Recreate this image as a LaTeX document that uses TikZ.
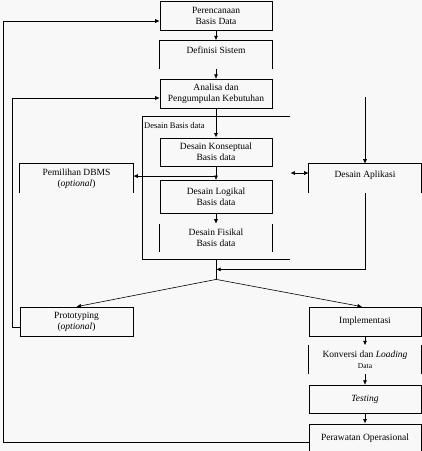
\documentclass[tikz,border=0pt]{standalone}
\usepackage{fontspec}
\setmainfont{Liberation Serif}
\usetikzlibrary{arrows.meta,positioning,calc}
\definecolor{PageGrey}{HTML}{F8F8F8}

\begin{document}
\begin{tikzpicture}[
  x=1pt,y=1pt,
  font=\fontsize{9.5}{11}\selectfont,
  box/.style={draw,line width=0.6pt,align=center,minimum width=112pt,
    minimum height=29pt,inner sep=1pt},
  openbox/.style={box,draw=none},
  edge/.style={line width=0.6pt},
  flow/.style={edge,-{Latex[length=4.5pt,width=4pt]}},
  twoway/.style={edge,{Latex[length=4.5pt,width=4pt]}-{Latex[length=4.5pt,width=4pt]}}
]
  \fill[PageGrey] (0,0) rectangle (422,-451);
  \useasboundingbox (0,0) rectangle (422,-451);

  % main column
  \node[box] (plan) at (216,-15.5) {Perencanaan\\Basis Data};
  \node[openbox,below=10pt of plan,minimum height=28pt] (defsis)
    {Definisi Sistem\\[-3pt]\mbox{}};
  \node[box,below=10pt of defsis] (analisa)
    {Analisa dan\\Pengumpulan Kebutuhan};
  \node[box,below=29pt of analisa,minimum height=28pt] (konsep)
    {Desain Konseptual\\Basis data};
  \node[box,below=14pt of konsep,minimum height=33pt] (logikal)
    {Desain Logikal\\Basis data};
  \node[openbox,below=10pt of logikal,minimum height=28pt] (fisikal)
    {Desain Fisikal\\Basis data};

  % database design frame
  \node[minimum width=148pt,minimum height=143pt,anchor=north west,
    inner sep=0pt] (dbframe) at (142,-116) {};
  \node[anchor=west,font=\fontsize{8.5}{10}\selectfont,inner sep=1pt]
    (dblabel) at (143,-126) {Desain Basis data};

  % side nodes
  \node[openbox,minimum width=113pt] (dbms) at (76.5,-178.5)
    {Pemilihan DBMS\\(\textit{optional})};
  \node[openbox] (aplikasi) at (365,-178.5) {Desain Aplikasi\\[-3pt]\mbox{}};
  \node[box,minimum width=113pt] (proto) at (76.5,-321.5)
    {Prototyping\\(\textit{optional})};
  \node[box] (impl) at (365,-321.5) {Implementasi};
  \node[openbox,below=9pt of impl,minimum height=28pt] (konversi)
    {Konversi dan \textit{Loading}\\{\fontsize{7.5}{8.5}\selectfont Data}};
  \node[box,below=11pt of konversi,minimum height=28pt] (testing)
    {\textit{Testing}};
  \node[box,below=10pt of testing,minimum height=28pt] (perawatan)
    {Perawatan Operasional};

  % partial borders
  \draw[edge] (defsis.south west) -- (defsis.north west)
    -- (defsis.north east) -- (defsis.south east);
  \draw[edge] (dbms.south west) -- (dbms.north west)
    -- (dbms.north east) -- (dbms.south east);
  \draw[edge] (aplikasi.south west) -- (aplikasi.north west)
    -- (aplikasi.north east) -- (aplikasi.south east);
  \draw[edge] (fisikal.north west) -- (fisikal.south west);
  \draw[edge] (fisikal.north east) -- (fisikal.south east);
  \draw[edge] (konversi.north west) -- (konversi.south west);
  \draw[edge] (konversi.north east) -- (konversi.south east);
  \draw[edge] (dbframe.north east) -- (dbframe.north west)
    -- (dbframe.south west) -- (dbframe.south east);

  % connectors
  \draw[flow] (plan) -- (defsis);
  \draw[flow] (defsis) -- (analisa);
  \draw[flow] (analisa) -- (konsep);
  \draw[flow] (konsep) -- (logikal);
  \draw[flow] (logikal) -- (fisikal);
  \coordinate (branch) at ($(konsep.south)+(0,-10)$);
  \draw[flow] (branch) -- (branch -| dbms.east);
  \coordinate (apstart) at (365,-97);
  \draw[flow] (apstart) -- (aplikasi);
  \draw[twoway] ($(dbframe.east |- aplikasi.west)+(0,5.5)$)
    -- ($(aplikasi.west)+(0,5.5)$);
  \coordinate (fork) at ($(dbframe.south)+(0,-20)$);
  \coordinate (merge) at ($(dbframe.south)+(0,-10)$);
  \draw[edge] (dbframe.south) -- (fork);
  \draw[flow] (aplikasi.south) |- (merge);
  \draw[flow] (fork) -- (proto.north);
  \draw[flow] (fork) -- ($(impl.north)+(-3,0)$);
  \draw[flow] (impl) -- (konversi);
  \draw[flow] (konversi) -- (testing);
  \draw[flow] (testing) -- (perawatan);
  \coordinate (inner) at (12,-98);
  \draw[flow] ($(proto.west)+(0,-5.5)$) -| (inner) -- (inner -| analisa.west);
  \coordinate (outer) at (3,-21);
  \draw[flow] ($(perawatan.west)+(0,-4)$) -| (outer) -- (outer -| plan.west);
\end{tikzpicture}
\end{document}
